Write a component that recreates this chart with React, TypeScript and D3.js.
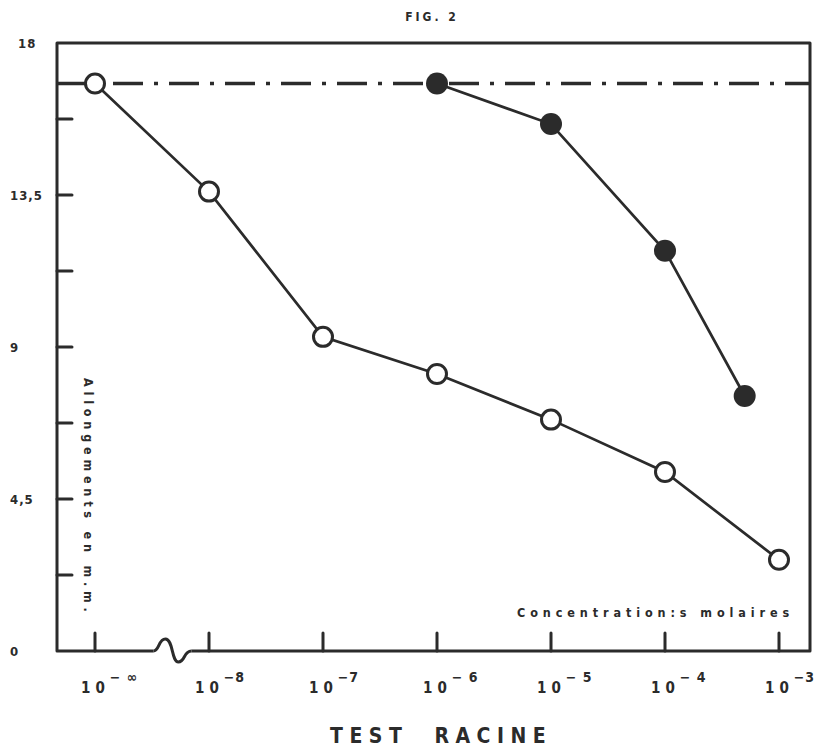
import { useEffect, useRef } from 'react';
import * as d3 from 'd3';

// x positions are decimal exponents; 10^-∞ is drawn one step left of 10^-8
const tickExps = [-9, -8, -7, -6, -5, -4, -3];
const tickSups = ['− ∞', '−8', '−7', '− 6', '− 5', '− 4', '−3'];
const yTicks = [0, 2.25, 4.5, 6.75, 9, 11.25, 13.5, 15.75, 18];
const yLabels = ['0', '4,5', '9', '13,5', '18'];
const yLabelValues = [0, 4.5, 9, 13.5, 18];

const openExps = [-9, -8, -7, -6, -5, -4, -3];
const openValues = [16.8, 13.6, 9.3, 8.2, 6.85, 5.3, 2.7];
const filledExps = [-6, -5, -4, Math.log10(5e-4)];
const filledValues = [16.8, 15.6, 11.85, 7.55];
const controlValue = 16.8;
const breakAt = -8.33;

const INK = '#2b2b2b';
const FONT = '"DejaVu Sans Condensed", "DejaVu Sans", sans-serif';

const Chart: React.FC = () => {
  const svgRef = useRef<SVGSVGElement | null>(null);

  useEffect(() => {
    if (!svgRef.current) return;
    const width = 818;
    const height = 754;
    const left = 57;
    const right = 810;
    const top = 43;
    const bottom = 651;

    const svg = d3.select(svgRef.current).attr('width', width).attr('height', height);
    svg.selectAll('*').remove();

    const x = d3.scaleLinear().domain([-9, -3]).range([95, 779]);
    const y = d3.scaleLinear().domain([0, 18]).range([bottom, top]);

    // frame (bottom edge has a break)
    const bx = x(breakAt);
    const frame = d3.path();
    frame.moveTo(bx + 20, bottom);
    frame.lineTo(right, bottom);
    frame.lineTo(right, top);
    frame.lineTo(left, top);
    frame.lineTo(left, bottom);
    frame.lineTo(bx - 18, bottom);
    svg
      .append('path')
      .attr('d', frame.toString())
      .attr('fill', 'none')
      .attr('stroke', INK)
      .attr('stroke-width', 3)
      .attr('stroke-linejoin', 'round');

    const squiggle = d3.path();
    squiggle.moveTo(bx - 18, bottom);
    squiggle.bezierCurveTo(bx - 12, bottom, bx - 13, bottom - 12, bx - 6, bottom - 12);
    squiggle.bezierCurveTo(bx + 2, bottom - 12, bx, bottom + 11, bx + 7, bottom + 11);
    squiggle.bezierCurveTo(bx + 14, bottom + 11, bx + 12, bottom, bx + 20, bottom);
    svg
      .append('path')
      .attr('d', squiggle.toString())
      .attr('fill', 'none')
      .attr('stroke', INK)
      .attr('stroke-width', 3);

    // y ticks
    svg
      .selectAll('line.yt')
      .data(yTicks.filter((v) => v > 0 && v < 18))
      .join('line')
      .attr('x1', left)
      .attr('x2', left + 15)
      .attr('y1', (d) => y(d))
      .attr('y2', (d) => y(d))
      .attr('stroke', INK)
      .attr('stroke-width', 3)
      .attr('stroke-linecap', 'round');

    svg
      .selectAll('text.yl')
      .data(yLabelValues)
      .join('text')
      .attr('x', (d) => (d === 18 ? 18 : 10))
      .attr('y', (d) => y(d) + 5)
      .text((_, i) => yLabels[i])
      .attr('font-family', FONT)
      .attr('font-weight', 'bold')
      .attr('font-size', 13)
      .attr('letter-spacing', 1)
      .attr('fill', INK);

    // x ticks
    svg
      .selectAll('line.xt')
      .data(tickExps)
      .join('line')
      .attr('x1', (d) => x(d))
      .attr('x2', (d) => x(d))
      .attr('y1', bottom)
      .attr('y2', bottom - 18)
      .attr('stroke', INK)
      .attr('stroke-width', 3)
      .attr('stroke-linecap', 'round');

    const xl = svg
      .selectAll('text.xl')
      .data(tickExps)
      .join('text')
      .attr('x', (d) => x(d) - 14)
      .attr('y', 693)
      .attr('font-family', FONT)
      .attr('font-weight', 'bold')
      .attr('font-size', 15)
      .attr('fill', INK);
    xl.append('tspan').attr('letter-spacing', 5).text('10');
    xl.append('tspan')
      .attr('dy', -11)
      .attr('font-size', 14)
      .attr('letter-spacing', 1)
      .text((_, i) => tickSups[i]);

    // control line
    svg
      .append('line')
      .attr('x1', left)
      .attr('x2', right)
      .attr('y1', y(controlValue))
      .attr('y2', y(controlValue))
      .attr('stroke', INK)
      .attr('stroke-width', 3.5)
      .attr('stroke-dasharray', '30 11 4 11');

    const line = d3
      .line<[number, number]>()
      .x((d) => x(d[0]))
      .y((d) => y(d[1]));

    const openPts = openExps.map((e, i) => [e, openValues[i]] as [number, number]);
    const filledPts = filledExps.map((e, i) => [e, filledValues[i]] as [number, number]);

    svg
      .append('path')
      .attr('d', line(openPts))
      .attr('fill', 'none')
      .attr('stroke', INK)
      .attr('stroke-width', 2.7);
    svg
      .append('path')
      .attr('d', line(filledPts))
      .attr('fill', 'none')
      .attr('stroke', INK)
      .attr('stroke-width', 2.7);

    svg
      .selectAll('circle.open')
      .data(openPts)
      .join('circle')
      .attr('cx', (d) => x(d[0]))
      .attr('cy', (d) => y(d[1]))
      .attr('r', 9.5)
      .attr('fill', 'white')
      .attr('stroke', INK)
      .attr('stroke-width', 3);

    svg
      .selectAll('circle.filled')
      .data(filledPts)
      .join('circle')
      .attr('cx', (d) => x(d[0]))
      .attr('cy', (d) => y(d[1]))
      .attr('r', 11)
      .attr('fill', INK);

    // texts
    svg
      .append('text')
      .attr('x', 432)
      .attr('y', 21)
      .attr('text-anchor', 'middle')
      .attr('font-family', FONT)
      .attr('font-weight', 'bold')
      .attr('font-size', 12)
      .attr('letter-spacing', 3)
      .attr('fill', INK)
      .text('FIG. 2');

    svg
      .append('text')
      .attr('transform', 'translate(84,378) rotate(90)')
      .attr('font-family', FONT)
      .attr('font-weight', 'bold')
      .attr('font-size', 12.5)
      .attr('letter-spacing', 4.8)
      .attr('fill', INK)
      .text('Allongements en m.m.');

    svg
      .append('text')
      .attr('x', 517)
      .attr('y', 617)
      .attr('font-family', FONT)
      .attr('font-weight', 'bold')
      .attr('font-size', 12.5)
      .attr('letter-spacing', 4.9)
      .attr('fill', INK)
      .text('Concentration:s molaires');

    svg
      .append('text')
      .attr('x', 330)
      .attr('y', 743)
      .attr('font-family', FONT)
      .attr('font-weight', 'bold')
      .attr('font-size', 21)
      .attr('letter-spacing', 6.5)
      .attr('fill', INK)
      .style('white-space', 'pre')
      .text('TEST  RACINE');
  }, []);

  return (
    <svg
      ref={svgRef}
      style={{ position: 'absolute', left: 0, top: 0, background: 'white' }}
    />
  );
};

export default function App() {
  return <Chart />;
}
